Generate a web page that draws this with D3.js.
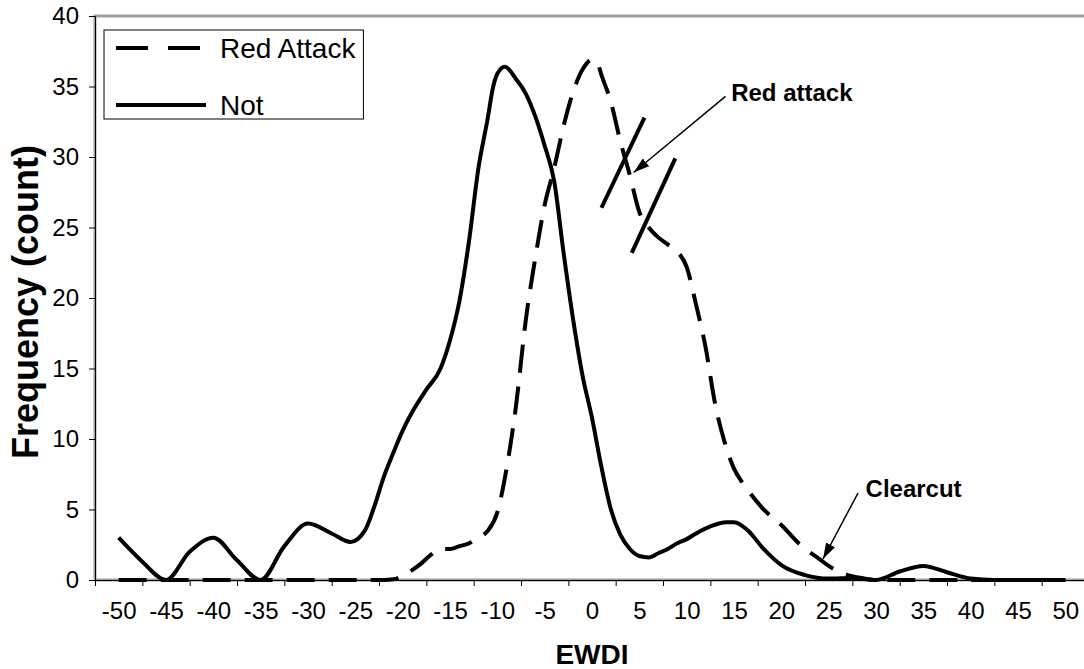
<!DOCTYPE html>
<html><head><meta charset="utf-8">
<script src="https://cdn.jsdelivr.net/npm/d3@7"></script>
<style>
html,body{margin:0;padding:0;background:#fff;}
svg{display:block;font-family:"Liberation Sans",Arial,sans-serif;}
</style></head><body>
<svg id="c" width="1084" height="669"></svg>
<script>
// ---- data ----
const xTickLabels = [-50,-45,-40,-35,-30,-25,-20,-15,-10,-5,0,5,10,15,20,25,30,35,40,45,50];
const yTickLabels = [0,5,10,15,20,25,30,35,40];
const seriesNames = ["Red Attack","Not"];

const notX = [-50,-47.5,-45,-42.5,-40,-37.5,-35,-32.5,-30,-27.5,-25.5,-24,-23,-22,-21,-20,-19,-17.5,-16,-15,-14,-13,-12,-11,-10.5,-10,-9.2,-8,-7,-6,-5,-4,-3,-2,-1,0,1,2,3,4,5,6,7,8,9,10,11,12.5,14.2,15,16.5,18,20,22.5,25,27.5,30,32.5,35,37.5,40,42.5,45,47.5,50];
const notY = [3.0,1.3,0.0,2.0,3.0,1.4,0.0,2.4,4.0,3.3,2.7,3.5,5.2,7.3,9.0,10.6,11.9,13.5,15.0,17.0,19.8,24.0,29.2,32.8,34.8,35.9,36.4,35.5,34.5,32.9,30.8,28.3,23.2,18.5,14.5,11.5,8.0,5.0,3.2,2.2,1.7,1.6,1.9,2.2,2.6,2.9,3.3,3.8,4.1,4.1,3.5,2.3,1.06,0.35,0.1,0.15,0.0,0.6,1.0,0.55,0.1,0,0,0,0];

const redX = [-50,-45,-40,-35,-30,-25,-22,-21,-20,-19,-18,-17,-16,-15,-14,-13,-12,-11,-10,-9,-8,-7,-6,-5,-4,-3,-2,-1,0,0.5,1,2,3,4,5,6,7,8,9,10,11,12,13,14,15,16,17,18,20,22,24,25,26,27,28,30,35,40,45,50];
const redY = [0,0,0,0,0,0,0,0.05,0.3,0.7,1.2,1.8,2.2,2.2,2.4,2.6,3.0,3.5,4.8,8.0,12.5,18.4,22.8,26.6,29.2,32.2,34.6,36.2,36.9,36.8,35.8,33.9,31.1,28.7,26.1,25.0,24.3,23.8,23.3,22.2,19.5,16.5,12.5,9.8,7.9,6.8,5.9,5.1,3.9,2.5,1.5,1.0,0.6,0.35,0.2,0,0,0,0,0];

// annotation (data units)
const markLines = [[5.54,32.8,1.0,26.4],[8.8,29.9,4.2,23.2]];
const annotations = [
  {text:"Red attack", tx:14.7, ty:34.0, ax1:14.1, ay1:34.3, ax2:4.4, ay2:28.9},
  {text:"Clearcut",   tx:28.9, ty:5.9,  ax1:28.1, ay1:6.17, ax2:24.4, ay2:1.49}
];

// ---- layout ----
const L=95, R=1089, T=16, B=580;
const svg = d3.select("#c");
const x = d3.scaleLinear().domain([-52.5,52.5]).range([L,R]);
const y = d3.scaleLinear().domain([0,40]).range([B,T]);

// plot border (gray)
svg.append("rect").attr("x",L).attr("y",T).attr("width",R-L).attr("height",B-T)
  .attr("fill","none").attr("stroke","#a0a0a0").attr("stroke-width",3);

// series
const line = d3.line().x(d=>x(d[0])).y(d=>y(d[1])).curve(d3.curveMonotoneX);
const notData = notX.map((v,i)=>[v,notY[i]]);
const redData = redX.map((v,i)=>[v,redY[i]]);
svg.append("path").datum(notData).attr("d",line).attr("fill","none")
  .attr("stroke","#000").attr("stroke-width",4).attr("stroke-linejoin","round");
svg.append("path").datum(redData).attr("d",line).attr("fill","none")
  .attr("stroke","#000").attr("stroke-width",4).attr("stroke-dasharray","28,14");

// axes
const gx = svg.append("g").attr("transform",`translate(0,${B})`);
gx.call(d3.axisBottom(x).tickValues(d3.range(-52.5,53,5)).tickSize(6).tickFormat(""));
gx.select(".domain").attr("stroke","#000");
gx.selectAll(".tick line").attr("stroke","#000");
const gxl = svg.append("g").attr("transform",`translate(0,${B})`);
gxl.call(d3.axisBottom(x).tickValues(xTickLabels).tickSize(0).tickPadding(22).tickFormat(d=>String(d)));
gxl.select(".domain").remove();
gxl.selectAll("text").attr("font-size",24).attr("fill","#000").attr("font-family","Liberation Sans, Arial, sans-serif");

const gy = svg.append("g").attr("transform",`translate(${L},0)`);
gy.call(d3.axisLeft(y).tickValues(yTickLabels).tickSize(6).tickPadding(10).tickFormat(d=>String(d)));
gy.select(".domain").attr("stroke","#000");
gy.selectAll(".tick line").attr("stroke","#000");
gy.selectAll("text").attr("font-size",24).attr("fill","#000").attr("font-family","Liberation Sans, Arial, sans-serif");

// axis titles
svg.append("text").attr("x",(L+R)/2).attr("y",664).attr("text-anchor","middle")
  .attr("font-size",28).attr("font-weight","bold").text("EWDI");
svg.append("text").attr("transform",`translate(38,302) rotate(-90)`).attr("text-anchor","middle")
  .attr("font-size",36).attr("font-weight","bold").text("Frequency (count)");

// annotation marks
svg.selectAll(".mk").data(markLines).enter().append("line")
  .attr("x1",d=>x(d[0])).attr("y1",d=>y(d[1])).attr("x2",d=>x(d[2])).attr("y2",d=>y(d[3]))
  .attr("stroke","#000").attr("stroke-width",4);

const defs = svg.append("defs");
defs.append("marker").attr("id","ah").attr("viewBox","0 0 10 10").attr("refX",10).attr("refY",5)
  .attr("markerWidth",16).attr("markerHeight",10).attr("markerUnits","userSpaceOnUse")
  .attr("orient","auto").attr("preserveAspectRatio","none")
  .append("path").attr("d","M0,0L10,5L0,10Z").attr("fill","#000");

annotations.forEach(a=>{
  svg.append("line").attr("x1",x(a.ax1)).attr("y1",y(a.ay1)).attr("x2",x(a.ax2)).attr("y2",y(a.ay2))
    .attr("stroke","#000").attr("stroke-width",1.5).attr("marker-end","url(#ah)");
  svg.append("text").attr("x",x(a.tx)).attr("y",y(a.ty)).attr("font-size",24).attr("font-weight","bold").text(a.text);
});

// legend
const lg = svg.append("g");
const box = lg.append("rect").attr("x",104).attr("y",30).attr("height",89).attr("fill","#fff").attr("stroke","#000").attr("stroke-width",1);
const rowsY = [48,105];
let maxEnd = 0;
seriesNames.forEach((n,i)=>{
  lg.append("line").attr("x1",116).attr("x2",206).attr("y1",rowsY[i]).attr("y2",rowsY[i])
    .attr("stroke","#000").attr("stroke-width",4).attr("stroke-dasharray",i===0?"32,20":null);
  const t = lg.append("text").attr("x",220).attr("y",rowsY[i]+10).attr("font-size",28).text(n);
  maxEnd = Math.max(maxEnd, 220 + t.node().getComputedTextLength());
});
box.attr("width",maxEnd+8-104);
</script>
</body></html>
